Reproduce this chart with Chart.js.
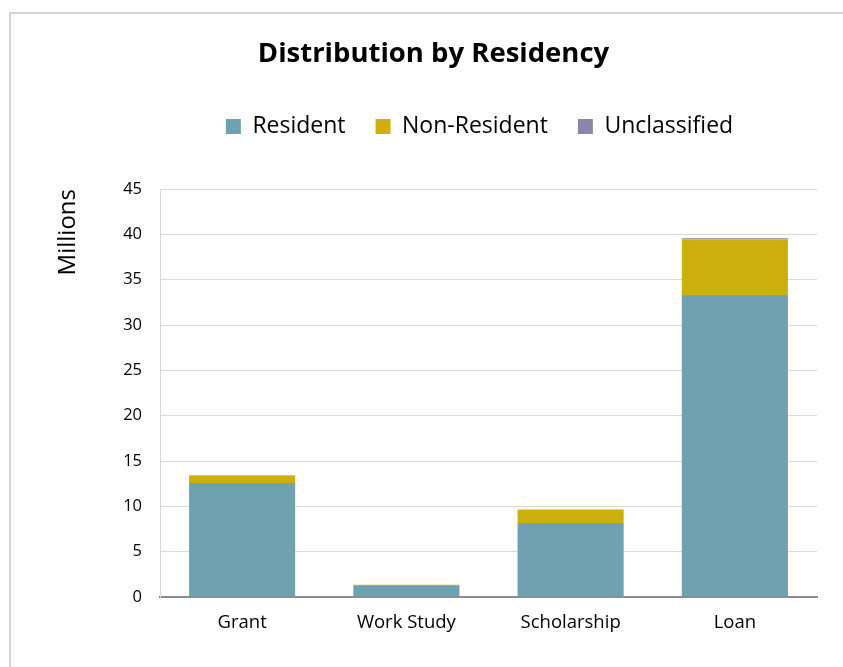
<!DOCTYPE html>
<html>
<head>
<meta charset="utf-8">
<script src="https://cdn.jsdelivr.net/npm/chart.js@4/dist/chart.umd.min.js"></script>
<style>
  html,body{margin:0;padding:0;background:#fff;}
  #wrap{position:relative;width:843px;height:667px;}
  #frame{position:absolute;left:9px;top:12px;right:-5px;bottom:-5px;border-left:2px solid #d4d4d4;border-top:2px solid #d4d4d4;}
  canvas{position:absolute;left:0;top:0;}
</style>
</head>
<body>
<div id="wrap">
  <div id="frame"></div>
  <canvas id="residencyChart" width="843" height="667"></canvas>
</div>
<script>
// Datos
const categories = ["Grant", "Work Study", "Scholarship", "Loan"];
const resident = [12.57, 1.3, 8.15, 33.3];
const nonResident = [0.84, 0.05, 1.47, 6.14];
const unclassified = [0.02, 0, 0.02, 0.12];
const yTicks = [0, 5, 10, 15, 20, 25, 30, 35, 40, 45];

const FONT = "'Open Sans', 'Noto Sans', sans-serif";

// espacio extra debajo de la leyenda y pequeño corrimiento a la izquierda
const legendGap = {
    id: "legendGap",
    afterInit(chart){
        const fit = chart.legend.fit;
        chart.legend.fit = function(){ fit.call(this); this.height += 41; };
    },
    afterLayout(chart){
        chart.legend.left -= 9;
        chart.legend.right -= 9;
    }
};

const ctx = document.getElementById("residencyChart").getContext("2d");
const chart = new Chart(ctx, {
    type: "bar",
    data: {
        labels: categories,
        datasets: [
            {label: "Resident", data: resident, backgroundColor: "#6fa1b0"},
            {label: "Non-Resident", data: nonResident, backgroundColor: "#ccae0c"},
            {label: "Unclassified", data: unclassified, backgroundColor: "#8c87a8"}
        ]
    },
    options: {
        responsive: false,
        animation: false,
        layout: {padding: {left: 50, right: 26, top: 38, bottom: 20}},
        datasets: {bar: {barPercentage: 0.646, categoryPercentage: 1}},
        plugins: {
            title: {
                display: true, text: "Distribution by Residency", color: "#000",
                font: {family: FONT, size: 27.5, weight: "bold"},
                padding: {top: 0, bottom: 14}
            },
            legend: {
                fullSize: false,
                labels: {
                    color: "#000", font: {family: FONT, size: 23},
                    boxWidth: 15, boxHeight: 15, padding: 30
                }
            },
            tooltip: {enabled: false}
        },
        scales: {
            x: {
                stacked: true,
                grid: {display: false, drawTicks: false},
                border: {color: "#8c8c8c", width: 2},
                ticks: {color: "#000", font: {family: FONT, size: 18.5}, padding: 15},
                afterFit: s => { s.height = 50; }
            },
            y: {
                stacked: true, min: 0, max: 45,
                afterBuildTicks: s => { s.ticks = yTicks.map(v => ({value: v})); },
                grid: {color: "#d9d9d9", drawTicks: false},
                border: {color: "#d9d9d9"},
                ticks: {color: "#000", font: {family: FONT, size: 16.5}, padding: 18},
                title: {
                    display: true, text: "Millions", align: "end", color: "#000",
                    font: {family: FONT, size: 24}, padding: {bottom: 4}
                },
                afterFit: s => { s.width = 110; }
            }
        }
    },
    plugins: [legendGap]
});
</script>
</body>
</html>
